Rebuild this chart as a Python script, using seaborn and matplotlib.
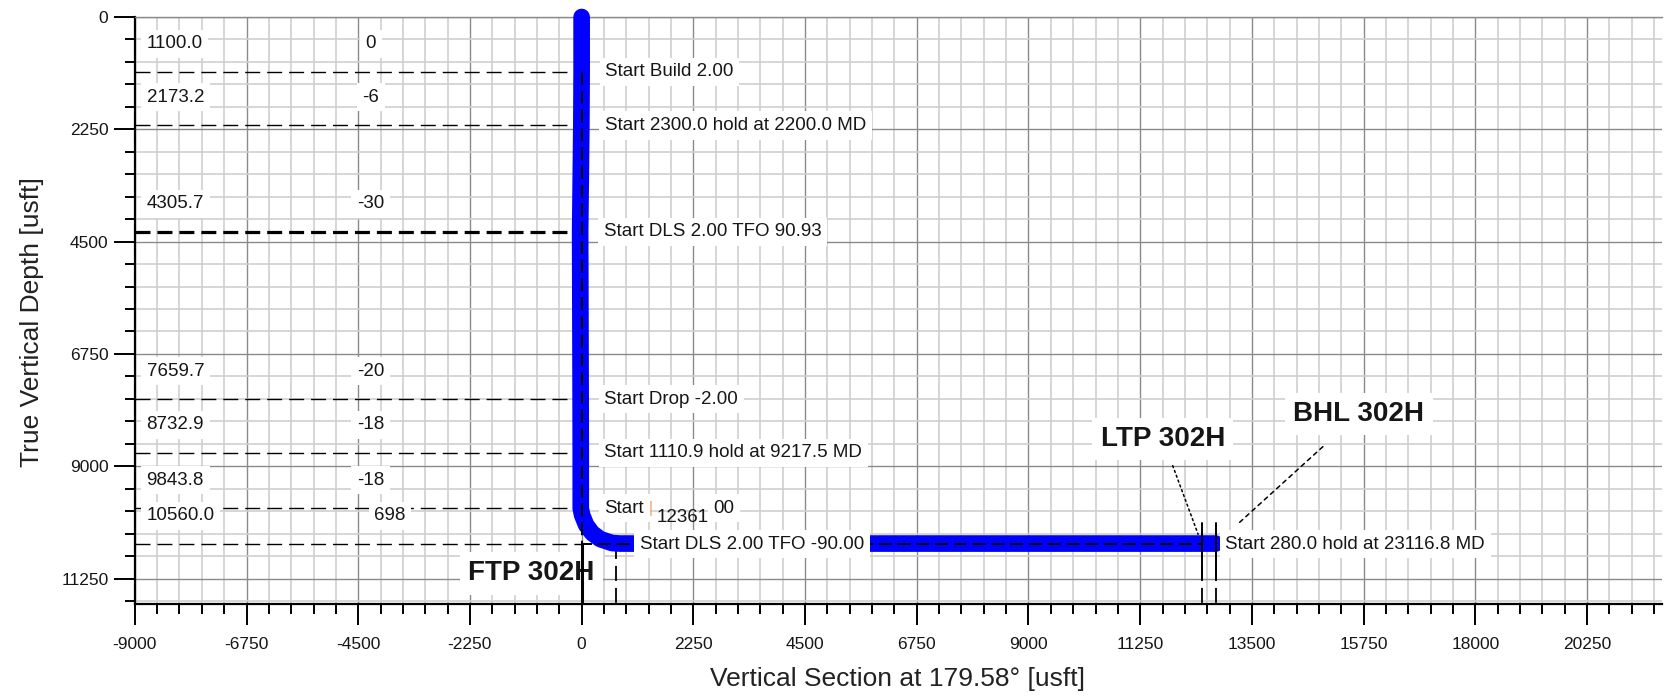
import matplotlib
matplotlib.use("Agg")
import matplotlib.pyplot as plt
import seaborn as sns
import numpy as np
import pandas as pd
from matplotlib.ticker import MultipleLocator

# ---------------- data ----------------
# section start points (TVD, vertical section) and their notes
section_tvd = [1100.0, 2173.2, 4305.7, 7659.7, 8732.9, 9843.8, 10560.0]
section_vs = [0, -6, -30, -20, -18, -18, 698]
section_notes = [
    "Start Build 2.00",
    "Start 2300.0 hold at 2200.0 MD",
    "Start DLS 2.00 TFO 90.93",
    "Start Drop -2.00",
    "Start 1110.9 hold at 9217.5 MD",
    None,  # partly hidden note, drawn in pieces below
    "Start DLS 2.00 TFO -90.00",
]
hidden_note_parts = ["Start", "00"]
overlap_label = "12361"

# actual well path (blue)
well_vs = [0, 0, -6, -30, -20, -18, -18, 10, 91, 212, 373, 614, 775, 12770]
well_tvd = [0, 1100, 2173.2, 4305.7, 7659.7, 8732.9, 9843.8, 9978, 10178,
            10339, 10459, 10539, 10549, 10549]

# plan line (black dashed)
plan_vs = [0, 0, 12490]
plan_tvd = [1100, 10560, 10560]

# targets
target_names = ["FTP 302H", "LTP 302H", "BHL 302H"]
target_vs = [0, 12490, 12770]
target_tvd = [10560, 10560, 10560]
end_note = "Start 280.0 hold at 23116.8 MD"
marker_top, marker_bottom = 10140, 11280

x_label = "Vertical Section at 179.58° [usft]"
y_label = "True Vertical Depth [usft]"

# ---------------- style ----------------
sns.set_theme(style="white")
plt.rcParams["font.family"] = ["Liberation Sans", "DejaVu Sans"]
plt.rcParams["lines.scale_dashes"] = False
plt.rcParams["axes.unicode_minus"] = False

W, H = 1664, 699
fig = plt.figure(figsize=(W / 100, H / 100), dpi=100)
ax_l, ax_r, ax_t, ax_b = 134.8, 1662, 17, 604
ax = fig.add_axes([ax_l / W, 1 - ax_b / H, (ax_r - ax_l) / W, (ax_b - ax_t) / H])

XMIN, XMAX = -9000, 21760
YMAX = 11760
TXT = "#161616"
box = dict(boxstyle="square,pad=0.3", fc="white", ec="none")
fs = 13.5
bfs = 20

# well path
sns.lineplot(x=well_vs, y=well_tvd, sort=False, estimator=None, ax=ax,
             color="#0000ff", linewidth=12, solid_capstyle="round",
             zorder=4, clip_on=False)

# plan dashed line
ax.plot(plan_vs, plan_tvd, color="black", lw=1.4, ls=(0, (9.5, 4)), zorder=5)

# horizontal section lines from left edge to the well
for i, (t, v) in enumerate(zip(section_tvd, section_vs)):
    lw = 2.3 if i == 2 else 1.0
    xe = 0 if i == len(section_tvd) - 1 else v
    ax.plot([XMIN, xe], [t, t], color="black", lw=lw, ls=(0, (10.8, 5)), zorder=3)

# left-side value labels
for t, v in zip(section_tvd, section_vs):
    s1 = f"{t:.1f}"
    ax.annotate(s1, xy=(XMIN, t), xytext=(8.5, 20.3), textcoords="offset points",
                ha="left", va="center", fontsize=fs, color=TXT, bbox=box, zorder=6)
    dx = 14 if len(s1) > 6 else 0
    ax.annotate(f"{v:.0f}", xy=(-4250, t), xytext=(dx, 20.3), textcoords="offset points",
                ha="center", va="center", fontsize=fs, color=TXT, bbox=box, zorder=6)

# section notes next to the well
for t, v, n in zip(section_tvd, section_vs, section_notes):
    if n is None:
        continue
    ax.annotate(n, xy=(v, t), xytext=(17, 0), textcoords="offset points",
                ha="left", va="center", fontsize=fs, color=TXT, bbox=box, zorder=6)

# partly hidden note at 9843.8 with overlapping label
hv, ht = section_vs[5], section_tvd[5]
ax.annotate(hidden_note_parts[0], xy=(hv, ht), xytext=(17, 0), textcoords="offset points",
            ha="left", va="center", fontsize=fs, color=TXT, bbox=box, zorder=6)
ax.annotate(hidden_note_parts[1], xy=(hv, ht), xytext=(95.5, 0), textcoords="offset points",
            ha="left", va="center", fontsize=fs, color=TXT, bbox=box, zorder=6)
ax.annotate(overlap_label, xy=(hv, ht), xytext=(54.5, -6.5),
            textcoords="offset points", ha="left", va="center", fontsize=fs,
            color=TXT, zorder=7)
ax.annotate("|", xy=(hv, ht), xytext=(50.5, 0),
            textcoords="offset points", ha="center", va="center", fontsize=fs - 2,
            color="#e8a060", zorder=8)

# end note at LTP
ax.annotate(end_note, xy=(target_vs[1], target_tvd[1]), xytext=(17, 0),
            textcoords="offset points", ha="left", va="center", fontsize=fs,
            color=TXT, bbox=box, zorder=6)

# projection dashed verticals
for v in [section_vs[-1], target_vs[1], target_vs[2]]:
    ax.plot([v, v], [target_tvd[0], YMAX], color="black", lw=1.3,
            ls=(0, (10.8, 5)), zorder=3)
# LTP / BHL solid markers
for v in target_vs[1:]:
    ax.plot([v, v], [marker_top, marker_bottom], color="black", lw=1.4, zorder=7)

# target labels
ax.annotate(target_names[0], xy=(target_vs[0], target_tvd[0]), xytext=(-36, -21),
            textcoords="offset points", ha="center", va="center", fontsize=bfs,
            fontweight="bold", color=TXT, bbox=box, zorder=6)
ax.plot([target_vs[0], target_vs[0]], [target_tvd[0], YMAX], color="black",
        lw=2.2, zorder=7)

ax.annotate(target_names[1], xy=(target_vs[1], target_tvd[1]), xytext=(-28, 75.6),
            textcoords="offset points", ha="center", va="center", fontsize=bfs,
            fontweight="bold", color=TXT, bbox=box, zorder=6,
            arrowprops=dict(arrowstyle="-", color="black", lw=1.1,
                            linestyle=(0, (1.5, 2.2)), shrinkA=4, shrinkB=7.5))
ax.annotate(target_names[2], xy=(target_vs[2], target_tvd[2]), xytext=(103, 93.6),
            textcoords="offset points", ha="center", va="center", fontsize=bfs,
            fontweight="bold", color=TXT, bbox=box, zorder=6,
            arrowprops=dict(arrowstyle="-", color="black", lw=1.1,
                            linestyle=(0, (3, 3)), shrinkA=12, shrinkB=22))

# ---------------- axes ----------------
ax.set_xlim(XMIN, XMAX)
ax.set_ylim(YMAX, 0)
ax.xaxis.set_major_locator(MultipleLocator(2250))
ax.xaxis.set_minor_locator(MultipleLocator(450))
ax.yaxis.set_major_locator(MultipleLocator(2250))
ax.yaxis.set_minor_locator(MultipleLocator(450))
ax.set_axisbelow(True)
ax.grid(which="major", color="#8a8a8a", lw=1.0, zorder=0)
ax.grid(which="minor", color="#cfcfcf", lw=1.2, zorder=0)

for s in ["left", "bottom"]:
    ax.spines[s].set_color("black")
    ax.spines[s].set_linewidth(1.6)
ax.spines["top"].set_color("#8a8a8a")
ax.spines["top"].set_linewidth(1.0)
ax.spines["right"].set_visible(False)

ax.tick_params(which="both", direction="out", color="black", bottom=True, left=True,
               top=False, right=False)
ax.tick_params(which="major", length=15, width=1.4, labelsize=12.5, labelcolor=TXT)
ax.tick_params(which="minor", length=7, width=1.4)
ax.tick_params(axis="x", which="major", pad=8.5)
ax.tick_params(axis="y", which="major", pad=4)

ax.set_xlabel(x_label, fontsize=19, color="#222222")
ax.set_ylabel(y_label, fontsize=19, color="#222222")
ax.xaxis.set_label_coords((897 - ax_l) / (ax_r - ax_l), (ax_b - 667) / (ax_b - ax_t))
ax.yaxis.set_label_coords((44 - ax_l) / (ax_r - ax_l), (ax_b - 322) / (ax_b - ax_t))

fig.savefig("out.png", dpi=100)
